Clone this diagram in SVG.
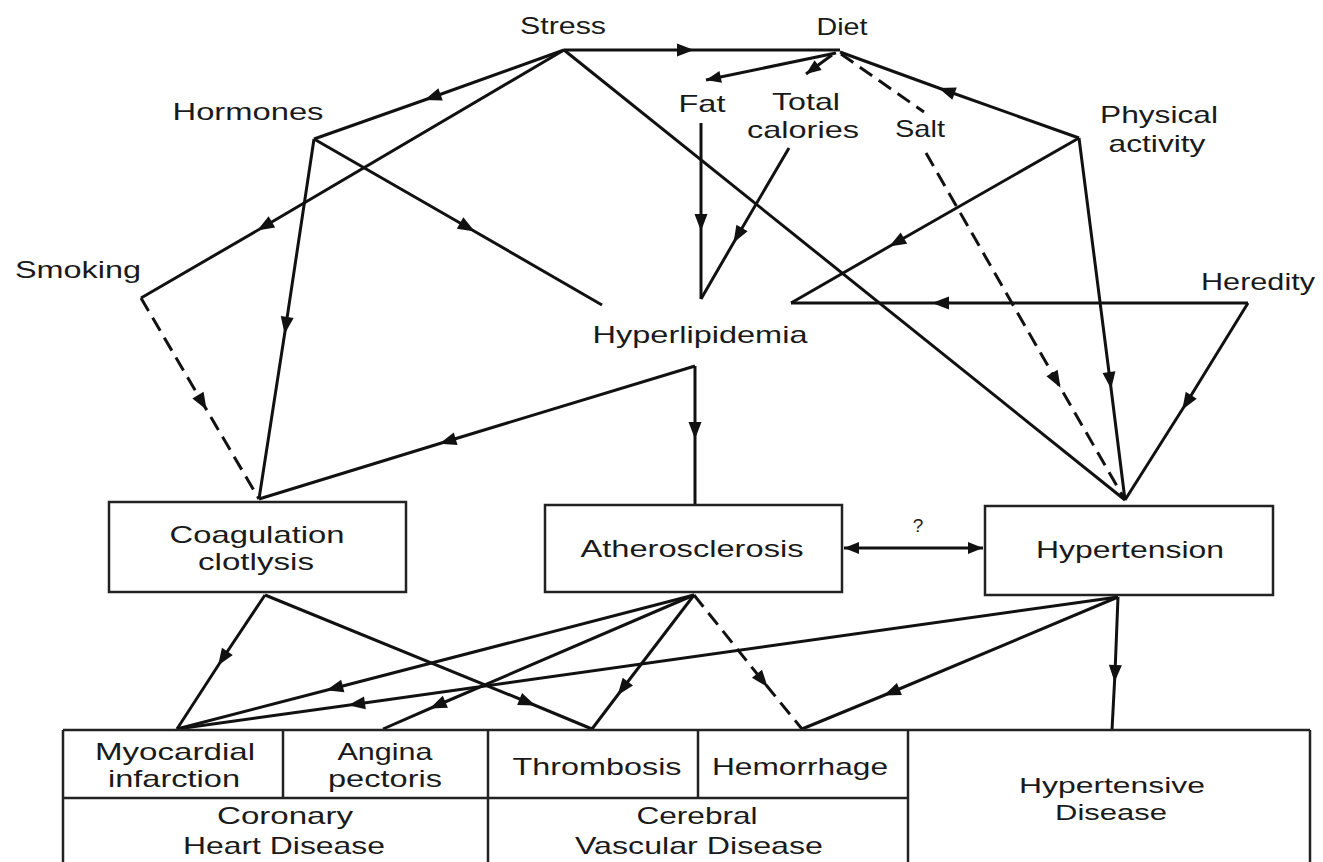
<svg xmlns="http://www.w3.org/2000/svg" width="1323" height="862" viewBox="0 0 1323 862">
<defs>
<style>
.t{font-family:"Liberation Sans",Arial,sans-serif;font-size:24px;fill:#1a1a1a;text-anchor:middle}
.s{font-size:22px}
.q{font-size:19px}
.c{fill:none;stroke:#111;stroke-width:3;marker-mid:url(#mid)}
.p{fill:none;stroke:#111;stroke-width:3}
.d{stroke-dasharray:15 8}
.b{fill:#fff;stroke:#222;stroke-width:2.5}
.g{fill:none;stroke:#222;stroke-width:2.5}
</style>
<marker id="mid" markerUnits="userSpaceOnUse" markerWidth="17" markerHeight="13" refX="8" refY="6.5" orient="auto" overflow="visible">
<path d="M0,0 L17,6.5 L0,13 Z" fill="#111" stroke="none"/>
</marker>
<marker id="end" markerUnits="userSpaceOnUse" markerWidth="15" markerHeight="12" refX="15" refY="6" orient="auto-start-reverse" overflow="visible">
<path d="M0,0 L15,6 L0,12 Z" fill="#111" stroke="none"/>
</marker>
</defs>
<rect width="1323" height="862" fill="#fff"/>

<g id="connectors">
<path class="c" d="M564,50 L685,50 L840,50"/>
<path class="c" d="M564,50 L433,97 L314,139"/>
<path class="c" d="M564,50 L265,226 L141,298"/>
<path class="p" d="M564,50 L1125,500"/>
<path class="c" d="M314,139 L467,227 L602,305"/>
<path class="c" d="M314,139 L286,325 L259,499"/>
<path class="c d" d="M141,298 L202,402 L259,499"/>
<path class="c" d="M695,366 L448,441 L259,499"/>
<path class="c" d="M695,366 L695,430 L695,505"/>
<path class="p" d="M836,53 L706,80" marker-end="url(#end)"/>
<path class="p" d="M832,55 L806,74" marker-end="url(#end)"/>
<path class="p d" d="M841,54 L924,112"/>
<path class="c" d="M1079,138 L947,91 L840,52"/>
<path class="c" d="M701,123 L701,222 L701,299"/>
<path class="c" d="M789,148 L738,235 L701,299"/>
<path class="c" d="M1079,138 L897,242 L791,303"/>
<path class="c" d="M1248,303 L941,303 L791,303"/>
<path class="c" d="M1248,303 L1187,402 L1125,500"/>
<path class="c" d="M1079,138 L1110,380 L1125,500"/>
<path class="c d" d="M926,153 L1056,380 L1125,500"/>
<path class="p" d="M844,548 L983,548" marker-start="url(#end)" marker-end="url(#end)"/>
<path class="c" d="M265,595 L223,658 L177,729"/>
<path class="c" d="M265,595 L527,702 L592,729"/>
<path class="c" d="M694,595 L335,688 L177,729"/>
<path class="c" d="M1118,597 L357,704 L177,729"/>
<path class="c" d="M694,595 L438,705 L383,729"/>
<path class="c" d="M694,595 L623,688 L592,729"/>
<path class="c d" d="M694,595 L762,680 L802,729"/>
<path class="c" d="M1118,597 L892,692 L802,729"/>
<path class="c" d="M1118,597 L1115,673 L1112,730"/>
</g>

<g id="stress"><text class="t" x="563" y="34" textLength="86" lengthAdjust="spacingAndGlyphs">Stress</text></g>
<g id="diet"><text class="t" x="842" y="35" textLength="51" lengthAdjust="spacingAndGlyphs">Diet</text></g>
<g id="hormones"><text class="t" x="248" y="120" textLength="151" lengthAdjust="spacingAndGlyphs">Hormones</text></g>
<g id="fat"><text class="t" x="702" y="112" textLength="47" lengthAdjust="spacingAndGlyphs">Fat</text></g>
<g id="total-calories">
<text class="t" x="806" y="110" textLength="68" lengthAdjust="spacingAndGlyphs">Total</text>
<text class="t" x="803" y="138" textLength="112" lengthAdjust="spacingAndGlyphs">calories</text>
</g>
<g id="salt"><text class="t" x="920" y="137" textLength="50" lengthAdjust="spacingAndGlyphs">Salt</text></g>
<g id="physical-activity">
<text class="t" x="1159" y="123" textLength="118" lengthAdjust="spacingAndGlyphs">Physical</text>
<text class="t" x="1157" y="152" textLength="97" lengthAdjust="spacingAndGlyphs">activity</text>
</g>
<g id="smoking"><text class="t" x="78" y="278" textLength="126" lengthAdjust="spacingAndGlyphs">Smoking</text></g>
<g id="heredity"><text class="t" x="1258" y="290" textLength="114" lengthAdjust="spacingAndGlyphs">Heredity</text></g>
<g id="hyperlipidemia"><text class="t" x="700" y="343" textLength="215" lengthAdjust="spacingAndGlyphs">Hyperlipidemia</text></g>

<g id="coagulation">
<rect class="b" x="109" y="502" width="297" height="90"/>
<text class="t" x="257" y="543" textLength="175" lengthAdjust="spacingAndGlyphs">Coagulation</text>
<text class="t" x="256" y="570" textLength="116" lengthAdjust="spacingAndGlyphs">clotlysis</text>
</g>
<g id="atherosclerosis">
<rect class="b" x="545" y="505" width="297" height="87"/>
<text class="t" x="692" y="557" textLength="223" lengthAdjust="spacingAndGlyphs">Atherosclerosis</text>
</g>
<g id="question"><text class="t q" x="918" y="532">?</text></g>
<g id="hypertension">
<rect class="b" x="985" y="506" width="288" height="89"/>
<text class="t" x="1130" y="558" textLength="188" lengthAdjust="spacingAndGlyphs">Hypertension</text>
</g>

<g id="outcomes-table">
<path class="g" d="M63,730 L1310,730 M63,730 L63,862 M1310,730 L1310,862 M488,730 L488,862 M908,730 L908,862 M283,730 L283,798 M698,730 L698,798 M63,798 L908,798"/>
</g>
<g id="myocardial-infarction">
<text class="t" x="175" y="760" textLength="160" lengthAdjust="spacingAndGlyphs">Myocardial</text>
<text class="t" x="174" y="787" textLength="132" lengthAdjust="spacingAndGlyphs">infarction</text>
</g>
<g id="angina-pectoris">
<text class="t" x="385" y="760" textLength="95" lengthAdjust="spacingAndGlyphs">Angina</text>
<text class="t" x="385" y="787" textLength="114" lengthAdjust="spacingAndGlyphs">pectoris</text>
</g>
<g id="thrombosis"><text class="t" x="597" y="775" textLength="169" lengthAdjust="spacingAndGlyphs">Thrombosis</text></g>
<g id="hemorrhage"><text class="t" x="800" y="775" textLength="176" lengthAdjust="spacingAndGlyphs">Hemorrhage</text></g>
<g id="coronary-heart-disease">
<text class="t" x="285" y="824" textLength="136" lengthAdjust="spacingAndGlyphs">Coronary</text>
<text class="t" x="284" y="854" textLength="202" lengthAdjust="spacingAndGlyphs">Heart Disease</text>
</g>
<g id="cerebral-vascular-disease">
<text class="t" x="697" y="824" textLength="121" lengthAdjust="spacingAndGlyphs">Cerebral</text>
<text class="t" x="699" y="854" textLength="248" lengthAdjust="spacingAndGlyphs">Vascular Disease</text>
</g>
<g id="hypertensive-disease">
<text class="t s" x="1112" y="793" textLength="186" lengthAdjust="spacingAndGlyphs">Hypertensive</text>
<text class="t s" x="1111" y="820" textLength="112" lengthAdjust="spacingAndGlyphs">Disease</text>
</g>
</svg>
